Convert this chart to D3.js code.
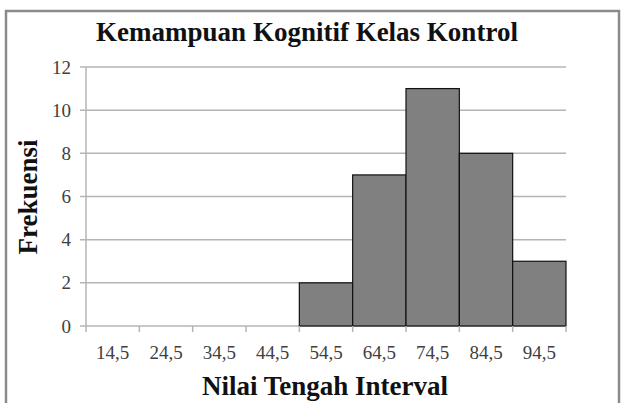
<!DOCTYPE html>
<html>
<head>
<meta charset="utf-8">
<script src="https://cdn.jsdelivr.net/npm/d3@7"></script>
<style>
  body { margin: 0; background: #fff; }
  svg text { font-family: "Liberation Serif", "Times New Roman", serif; }
</style>
</head>
<body>
<div id="chart"></div>
<script>
// data
var categories = ["14,5", "24,5", "34,5", "44,5", "54,5", "64,5", "74,5", "84,5", "94,5"];
var frekuensi = [0, 0, 0, 0, 2, 7, 11, 8, 3];
var yTicks = [0, 2, 4, 6, 8, 10, 12];

var width = 626, height = 403;
var margin = {top: 67, right: 60, bottom: 77, left: 86};

var svg = d3.select("#chart")
  .append("svg")
  .attr("width", width)
  .attr("height", height);

// outer frame
svg.append("rect")
  .attr("x", 6).attr("y", 11)
  .attr("width", 613).attr("height", 400)
  .style("fill", "none")
  .style("stroke", "#8a8a8a")
  .style("stroke-width", 2.5);

var x = d3.scaleBand()
  .domain(categories)
  .range([margin.left, width - margin.right])
  .padding(0);

var y = d3.scaleLinear()
  .domain([0, 12])
  .range([height - margin.bottom, margin.top]);

// gridlines
svg.append("g")
  .selectAll("line")
  .data(yTicks)
  .enter()
  .append("line")
  .attr("x1", margin.left - 6)
  .attr("x2", width - margin.right)
  .attr("y1", function(d) { return y(d); })
  .attr("y2", function(d) { return y(d); })
  .style("stroke", "#b4b4b4")
  .style("stroke-width", 1.5);

// y axis line
svg.append("line")
  .attr("x1", margin.left).attr("x2", margin.left)
  .attr("y1", y(12)).attr("y2", y(0))
  .style("stroke", "#b4b4b4")
  .style("stroke-width", 1.5);

// bars
svg.append("g")
  .selectAll("rect")
  .data(frekuensi)
  .enter()
  .append("rect")
  .attr("x", function(d, i) { return x(categories[i]); })
  .attr("y", function(d) { return y(d); })
  .attr("width", x.bandwidth())
  .attr("height", function(d) { return y(0) - y(d); })
  .style("fill", function(d) { return d > 0 ? "#808080" : "none"; })
  .style("stroke", function(d) { return d > 0 ? "#111" : "none"; })
  .style("stroke-width", 1.2);

// x ticks at band edges
var edges = categories.map(function(c) { return x(c); }).concat([x.range()[1]]);
svg.append("g")
  .selectAll("line")
  .data(edges)
  .enter()
  .append("line")
  .attr("x1", function(d) { return d; })
  .attr("x2", function(d) { return d; })
  .attr("y1", y(0))
  .attr("y2", y(0) + 6)
  .style("stroke", "#b4b4b4")
  .style("stroke-width", 1.5);

// x tick labels
svg.append("g")
  .selectAll("text")
  .data(categories)
  .enter()
  .append("text")
  .attr("x", function(d) { return x(d) + x.bandwidth() / 2; })
  .attr("y", y(0) + 33)
  .attr("text-anchor", "middle")
  .style("font-size", "19px")
  .style("fill", "#404040")
  .text(function(d) { return d; });

// y tick labels
svg.append("g")
  .selectAll("text")
  .data(yTicks)
  .enter()
  .append("text")
  .attr("x", margin.left - 15)
  .attr("y", function(d) { return y(d) + 6.5; })
  .attr("text-anchor", "end")
  .style("font-size", "19px")
  .style("fill", "#404040")
  .text(function(d) { return d; });

// title
svg.append("text")
  .attr("x", 307)
  .attr("y", 41)
  .attr("text-anchor", "middle")
  .style("font-size", "27px")
  .style("font-weight", "bold")
  .style("fill", "#111")
  .text("Kemampuan Kognitif Kelas Kontrol");

// axis titles
svg.append("text")
  .attr("x", 325)
  .attr("y", 395)
  .attr("text-anchor", "middle")
  .style("font-size", "27px")
  .style("font-weight", "bold")
  .style("fill", "#111")
  .text("Nilai Tengah Interval");

svg.append("text")
  .attr("transform", "translate(37,197) rotate(-90)")
  .attr("text-anchor", "middle")
  .style("font-size", "27px")
  .style("font-weight", "bold")
  .style("fill", "#111")
  .text("Frekuensi");
</script>
</body>
</html>
